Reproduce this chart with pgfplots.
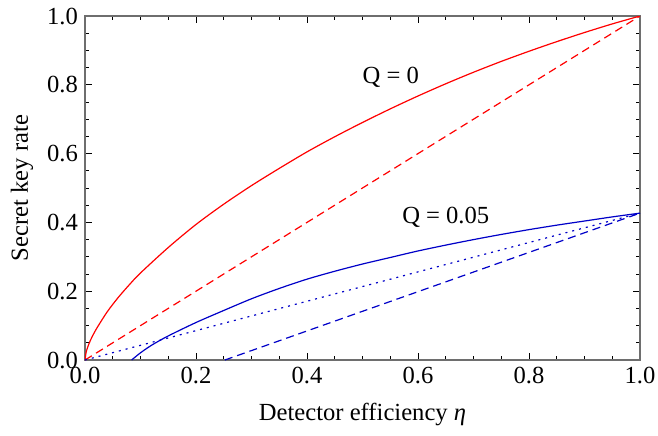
\documentclass[border=0pt]{standalone}
\usepackage{fontspec}
\setmainfont{Liberation Serif}
\usepackage{pgfplots}
\pgfplotsset{compat=1.18}
\definecolor{qred}{RGB}{255,0,0}
\definecolor{qblue}{RGB}{0,0,200}
\definecolor{framegray}{RGB}{110,110,110}

% Q = 0, full curve
\pgfplotstableread{
x y
0 0
0.002 0.022
0.005 0.038
0.01 0.058
0.02 0.089
0.04 0.140
0.06 0.182
0.08 0.219
0.10 0.253
0.15 0.327
0.20 0.394
0.25 0.453
0.30 0.507
0.35 0.557
0.40 0.605
0.45 0.649
0.50 0.6905
0.55 0.730
0.60 0.7675
0.65 0.803
0.70 0.8365
0.75 0.868
0.80 0.8975
0.85 0.9255
0.90 0.952
0.95 0.977
1.00 1.000
}\redsolid

% Q = 0.05, full curve
\pgfplotstableread{
x y
0.084 0
0.09 0.008
0.10 0.021
0.12 0.043
0.15 0.070
0.20 0.109
0.25 0.144
0.30 0.178
0.35 0.208
0.40 0.235
0.45 0.258
0.50 0.279
0.55 0.298
0.60 0.317
0.65 0.334
0.70 0.350
0.75 0.365
0.80 0.379
0.85 0.392
0.90 0.404
0.95 0.416
1.00 0.427
}\bluesolid

\newcommand{\labfont}{\fontsize{12.3}{14}\selectfont}

\begin{document}
\begin{tikzpicture}
\begin{axis}[
    scale only axis,
    width=277.5pt, height=172pt,
    xmin=0, xmax=1, ymin=0, ymax=1,
    xtick={0,0.2,0.4,0.6,0.8,1},
    ytick={0,0.2,0.4,0.6,0.8,1},
    xticklabels={0.0,0.2,0.4,0.6,0.8,1.0},
    yticklabels={0.0,0.2,0.4,0.6,0.8,1.0},
    minor tick num=3,
    tick align=inside,
    major tick length=3.5pt,
    minor tick length=2pt,
    axis line style={framegray, line width=0.9pt},
    every tick/.style={black, line width=0.5pt},
    tick label style={font=\labfont},
    xlabel={Detector efficiency \textit{η}},
    ylabel={Secret key rate},
    label style={font=\labfont},
    xlabel style={at={([yshift=-30pt]axis description cs:0.5,0)}, anchor=base},
    ylabel style={at={([xshift=-28.5pt]axis description cs:0,0.5)}, anchor=base},
]
\addplot[qred, line width=0.6pt, smooth, tension=0.5] table {\redsolid};
\addplot[qred, line width=0.6pt, dash pattern=on 4pt off 2.5pt] coordinates {(0,0) (1,1)};
\addplot[qblue, line width=0.6pt, smooth, tension=0.5] table {\bluesolid};
\addplot[qblue, line width=0.6pt, dash pattern=on 1pt off 2.5pt] coordinates {(0,0) (1,0.427)};
\addplot[qblue, line width=0.6pt, dash pattern=on 4pt off 2.5pt] coordinates {(0.252,0) (1,0.427)};
\node[font=\labfont] at (axis cs:0.551,0.821) {Q = 0};
\node[font=\labfont] at (axis cs:0.650,0.416) {Q = 0.05};
\end{axis}
\pgfresetboundingbox
\path ([xshift=-42.5pt,yshift=-37.5pt]current axis.south west) rectangle ([xshift=9pt,yshift=8pt]current axis.north east);
\end{tikzpicture}
\end{document}
